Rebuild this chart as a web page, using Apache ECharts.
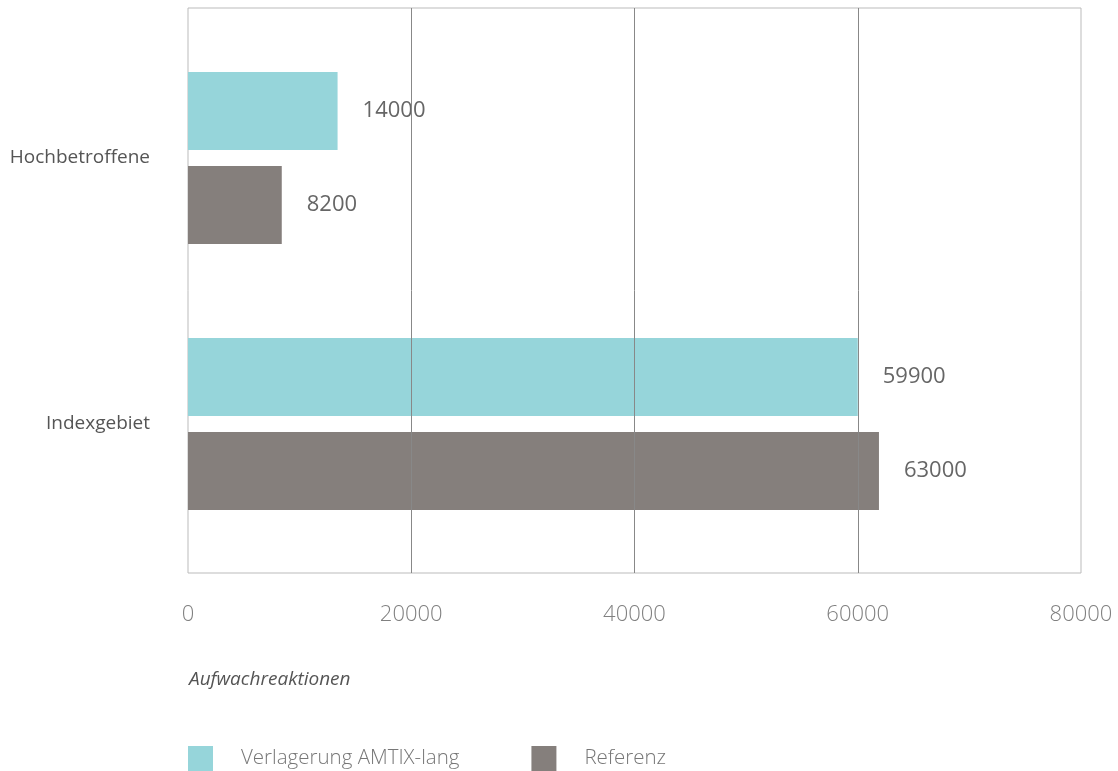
<!DOCTYPE html>
<html>
<head>
<meta charset="utf-8">
<script src="https://cdn.jsdelivr.net/npm/echarts@6/dist/echarts.min.js"></script>
<style>
  html, body { margin: 0; padding: 0; background: #fff; }
  #chart { width: 1118px; height: 771px; }
</style>
</head>
<body>
<div id="chart"></div>
<script>
// Daten
const categories = ["Hochbetroffene", "Indexgebiet"];
const seriesNames = ["Verlagerung AMTIX-lang", "Referenz"];
// Balkenlaengen
const amtixValues = [13400, 60000];
const referenzValues = [8400, 61900];
// Beschriftungen wie im Bild
const amtixLabels = ["14000", "59900"];
const referenzLabels = ["8200", "63000"];
const xTicks = [0, 20000, 40000, 60000, 80000];

const sans = "'Open Sans', sans-serif";

const chart = echarts.init(document.getElementById("chart"));

const labelStyle = (texts) => ({
  show: true,
  position: "right",
  distance: 25,
  fontFamily: sans,
  fontSize: 22,
  color: "#666",
  formatter: (p) => texts[p.dataIndex],
});

const option = {
  backgroundColor: "#fff",
  animation: false,
  title: {
    text: "Aufwachreaktionen",
    left: 184,
    top: 665,
    textStyle: { fontFamily: sans, fontStyle: "italic", fontWeight: "normal", fontSize: 19, color: "#555" },
  },
  legend: {
    left: 183,
    top: 741,
    icon: "rect",
    itemWidth: 25,
    itemHeight: 25,
    itemGap: 72,
    data: seriesNames,
    textStyle: { fontFamily: sans, fontWeight: 300, fontSize: 20.5, color: "#777", padding: [0, 0, 0, 23] },
  },
  grid: [
    // bars
    { left: 188, right: 37, top: 25, height: 532, outerBoundsMode: "none" },
    // frame + gridlines
    {
      left: 188, right: 37, top: 8, height: 565, outerBoundsMode: "none",
      show: true, borderColor: "#bbb", borderWidth: 1, backgroundColor: "transparent",
    },
  ],
  xAxis: [
    { gridIndex: 0, type: "value", min: 0, max: 80000, interval: 20000, show: false },
    {
      gridIndex: 1,
      type: "value",
      min: xTicks[0],
      max: xTicks[xTicks.length - 1],
      interval: 20000,
      z: 5,
      axisLine: { show: false },
      axisTick: { show: false },
      splitLine: { show: true, showMinLine: false, showMaxLine: false, lineStyle: { color: "#888", width: 1 } },
      axisLabel: {
        margin: 31,
        fontFamily: sans,
        fontWeight: 300,
        fontSize: 22,
        color: "#808080",
        formatter: (v) => String(v),
      },
    },
  ],
  yAxis: [
    {
      gridIndex: 0,
      type: "category",
      inverse: true,
      data: categories,
      axisLine: { show: false },
      axisTick: { show: false },
      axisLabel: { margin: 38, fontFamily: sans, fontSize: 19, color: "#555" },
    },
    { gridIndex: 1, type: "value", show: false },
  ],
  series: [
    {
      name: seriesNames[0],
      type: "bar",
      xAxisIndex: 0,
      yAxisIndex: 0,
      data: amtixValues,
      barWidth: 78,
      barGap: "20.5%",
      itemStyle: { color: "#96d5da" },
      label: labelStyle(amtixLabels),
    },
    {
      name: seriesNames[1],
      type: "bar",
      xAxisIndex: 0,
      yAxisIndex: 0,
      data: referenzValues,
      barWidth: 78,
      barGap: "20.5%",
      itemStyle: { color: "#857f7c" },
      label: labelStyle(referenzLabels),
    },
  ],
};

chart.setOption(option);
</script>
</body>
</html>
